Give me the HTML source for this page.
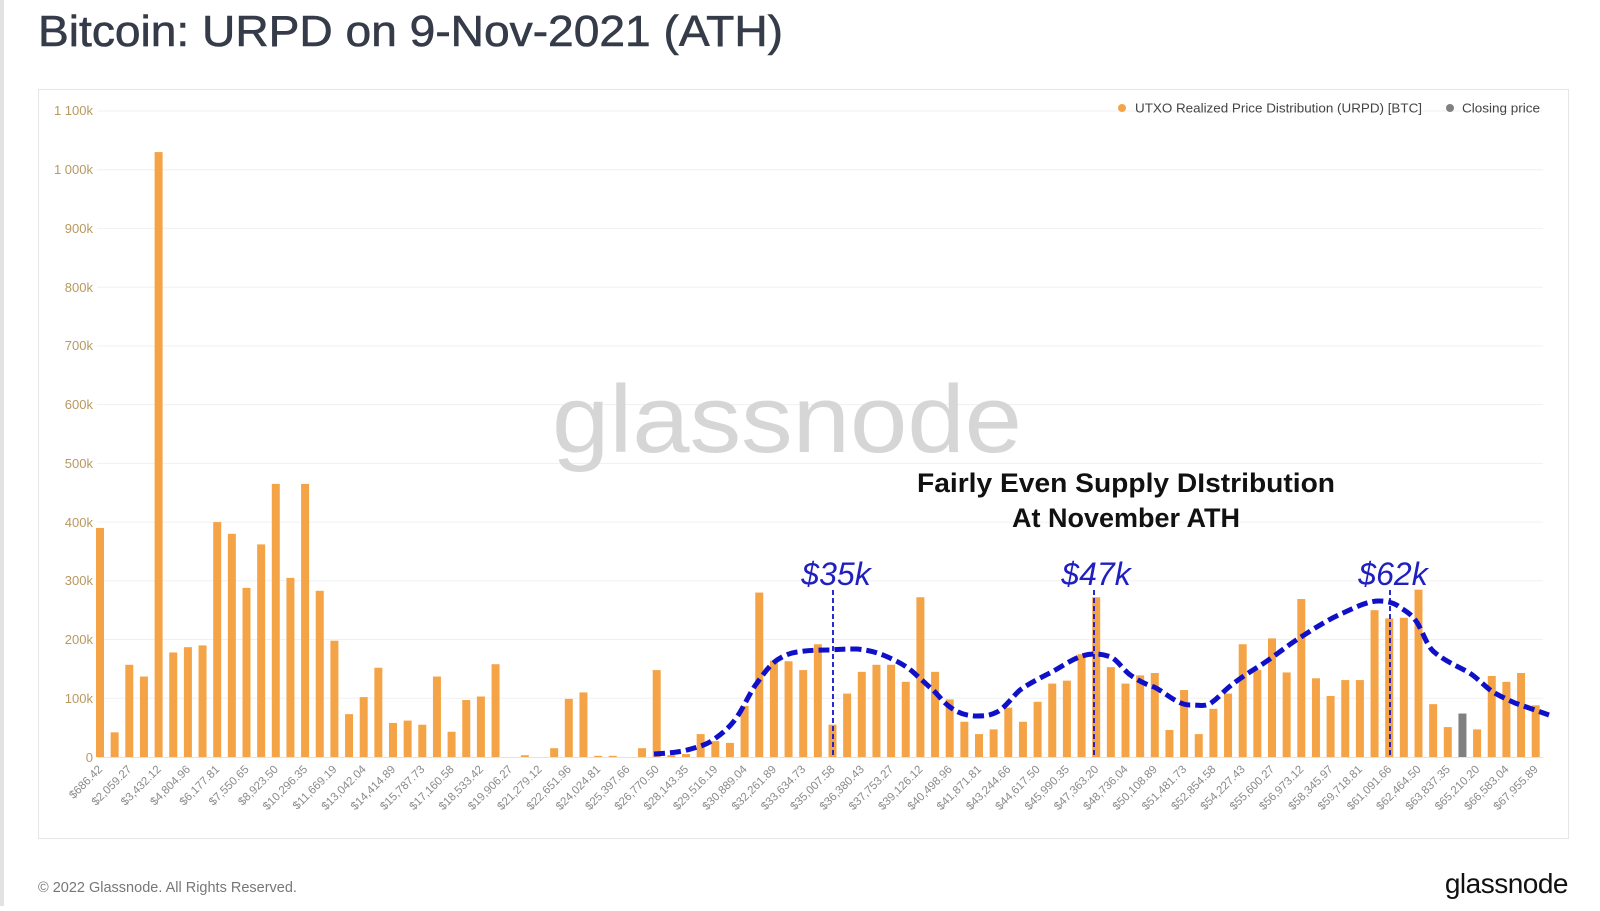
<!DOCTYPE html>
<html><head><meta charset="utf-8"><style>
html,body{margin:0;padding:0;background:#fff;}
body{width:1600px;height:906px;overflow:hidden;position:relative;font-family:"Liberation Sans",sans-serif;}
</style></head><body>
<svg width="1600" height="906" viewBox="0 0 1600 906" xmlns="http://www.w3.org/2000/svg" font-family="Liberation Sans, sans-serif">
<rect x="0" y="0" width="4" height="906" fill="#e2e2e2"/>
<text x="38" y="46" font-size="44" fill="#353b48" stroke="#353b48" stroke-width="0.6" textLength="745" lengthAdjust="spacingAndGlyphs">Bitcoin: URPD on 9-Nov-2021 (ATH)</text>
<rect x="38.5" y="89.5" width="1530" height="749" fill="#fff" stroke="#e6e6e6"/>
<g stroke="#f0f0f0" stroke-width="1">
<line x1="97" x2="1543" y1="698.3" y2="698.3"/><line x1="97" x2="1543" y1="639.5" y2="639.5"/><line x1="97" x2="1543" y1="580.8" y2="580.8"/><line x1="97" x2="1543" y1="522.1" y2="522.1"/><line x1="97" x2="1543" y1="463.4" y2="463.4"/><line x1="97" x2="1543" y1="404.6" y2="404.6"/><line x1="97" x2="1543" y1="345.9" y2="345.9"/><line x1="97" x2="1543" y1="287.2" y2="287.2"/><line x1="97" x2="1543" y1="228.4" y2="228.4"/><line x1="97" x2="1543" y1="169.7" y2="169.7"/><line x1="97" x2="1543" y1="111" y2="111"/>
</g>
<line x1="97" x2="1543" y1="757.5" y2="757.5" stroke="#dfe3ea"/>
<g font-size="13" fill="#b8995f" text-anchor="end">
<text x="93" y="762">0</text><text x="93" y="703">100k</text><text x="93" y="644">200k</text><text x="93" y="585">300k</text><text x="93" y="527">400k</text><text x="93" y="468">500k</text><text x="93" y="409">600k</text><text x="93" y="350">700k</text><text x="93" y="292">800k</text><text x="93" y="233">900k</text><text x="93" y="174">1 000k</text><text x="93" y="115">1 100k</text>
</g>
<text x="787" y="452" font-size="96" fill="#d6d6d6" text-anchor="middle" textLength="470" lengthAdjust="spacingAndGlyphs">glassnode</text>
<g id="bars"></g>
<g font-size="11.5" fill="#8a8a8a" text-anchor="end">
<text transform="translate(103,770) rotate(-45)">$686.42</text>
<text transform="translate(132.3,770) rotate(-45)">$2,059.27</text>
<text transform="translate(161.6,770) rotate(-45)">$3,432.12</text>
<text transform="translate(190.9,770) rotate(-45)">$4,804.96</text>
<text transform="translate(220.2,770) rotate(-45)">$6,177.81</text>
<text transform="translate(249.5,770) rotate(-45)">$7,550.65</text>
<text transform="translate(278.8,770) rotate(-45)">$8,923.50</text>
<text transform="translate(308.1,770) rotate(-45)">$10,296.35</text>
<text transform="translate(337.4,770) rotate(-45)">$11,669.19</text>
<text transform="translate(366.7,770) rotate(-45)">$13,042.04</text>
<text transform="translate(396,770) rotate(-45)">$14,414.89</text>
<text transform="translate(425.3,770) rotate(-45)">$15,787.73</text>
<text transform="translate(454.6,770) rotate(-45)">$17,160.58</text>
<text transform="translate(483.9,770) rotate(-45)">$18,533.42</text>
<text transform="translate(513.2,770) rotate(-45)">$19,906.27</text>
<text transform="translate(542.5,770) rotate(-45)">$21,279.12</text>
<text transform="translate(571.8,770) rotate(-45)">$22,651.96</text>
<text transform="translate(601.1,770) rotate(-45)">$24,024.81</text>
<text transform="translate(630.4,770) rotate(-45)">$25,397.66</text>
<text transform="translate(659.7,770) rotate(-45)">$26,770.50</text>
<text transform="translate(689,770) rotate(-45)">$28,143.35</text>
<text transform="translate(718.3,770) rotate(-45)">$29,516.19</text>
<text transform="translate(747.6,770) rotate(-45)">$30,889.04</text>
<text transform="translate(776.9,770) rotate(-45)">$32,261.89</text>
<text transform="translate(806.2,770) rotate(-45)">$33,634.73</text>
<text transform="translate(835.5,770) rotate(-45)">$35,007.58</text>
<text transform="translate(864.8,770) rotate(-45)">$36,380.43</text>
<text transform="translate(894.1,770) rotate(-45)">$37,753.27</text>
<text transform="translate(923.4,770) rotate(-45)">$39,126.12</text>
<text transform="translate(952.7,770) rotate(-45)">$40,498.96</text>
<text transform="translate(982,770) rotate(-45)">$41,871.81</text>
<text transform="translate(1011.3,770) rotate(-45)">$43,244.66</text>
<text transform="translate(1040.6,770) rotate(-45)">$44,617.50</text>
<text transform="translate(1069.9,770) rotate(-45)">$45,990.35</text>
<text transform="translate(1099.2,770) rotate(-45)">$47,363.20</text>
<text transform="translate(1128.5,770) rotate(-45)">$48,736.04</text>
<text transform="translate(1157.8,770) rotate(-45)">$50,108.89</text>
<text transform="translate(1187.1,770) rotate(-45)">$51,481.73</text>
<text transform="translate(1216.4,770) rotate(-45)">$52,854.58</text>
<text transform="translate(1245.7,770) rotate(-45)">$54,227.43</text>
<text transform="translate(1275,770) rotate(-45)">$55,600.27</text>
<text transform="translate(1304.3,770) rotate(-45)">$56,973.12</text>
<text transform="translate(1333.6,770) rotate(-45)">$58,345.97</text>
<text transform="translate(1362.9,770) rotate(-45)">$59,718.81</text>
<text transform="translate(1392.2,770) rotate(-45)">$61,091.66</text>
<text transform="translate(1421.5,770) rotate(-45)">$62,464.50</text>
<text transform="translate(1450.8,770) rotate(-45)">$63,837.35</text>
<text transform="translate(1480.1,770) rotate(-45)">$65,210.20</text>
<text transform="translate(1509.4,770) rotate(-45)">$66,583.04</text>
<text transform="translate(1538.7,770) rotate(-45)">$67,955.89</text>
</g>
<g stroke="#1414c8" stroke-width="1.8" stroke-dasharray="5,3">
<line x1="833" y1="590" x2="833" y2="757"/>
<line x1="1094" y1="590" x2="1094" y2="757"/>
<line x1="1390" y1="590" x2="1390" y2="757"/>
</g>
<path d="M654,754 C670,753 680,752 687,750 C698,747 706,745 713,740 C723,733 730,727 737,717 C745,705 750,692 757,683 C764,673 770,665 777,660 C785,655 790,653 797,652 C810,650 820,650 830,650 C840,649 848,649 857,649 C868,650 875,652 883,655 C895,660 905,665 913,672 C922,680 927,685 933,690 C940,697 944,703 950,707 C958,713 966,716 977,716 C987,716 991,715 997,712 C1006,707 1013,696 1020,690 C1030,683 1040,678 1050,673 C1065,665 1078,654 1094,654 C1104,654 1107,656 1111,657 C1118,661 1122,668 1129,674 C1137,680 1145,684 1154,687 C1165,692 1177,705 1190,705 C1200,705 1205,707 1211,703 C1218,698 1222,693 1229,687 C1240,678 1250,672 1261,665 C1275,656 1288,645 1301,637 C1315,628 1329,619 1343,613 C1356,607 1368,601 1379,601 C1390,601 1396,604 1401,608 C1409,613 1413,616 1418,624 C1424,635 1427,645 1433,651 C1443,660 1455,665 1468,672 C1478,678 1485,687 1493,692 C1500,696 1508,700 1515,703 C1526,707 1538,711 1549,715" fill="none" stroke="#1010c8" stroke-width="5" stroke-dasharray="11,5" stroke-linecap="butt"/>
<g font-size="32" font-style="italic" fill="#2020c0" text-anchor="middle">
<text x="836" y="585">$35k</text>
<text x="1096" y="585">$47k</text>
<text x="1393" y="585">$62k</text>
</g>
<g font-size="27" font-weight="bold" fill="#111" text-anchor="middle">
<text x="1126" y="492" textLength="418" lengthAdjust="spacingAndGlyphs">Fairly Even Supply DIstribution</text>
<text x="1126" y="527">At November ATH</text>
</g>
<circle cx="1122" cy="108" r="4" fill="#f4a447"/>
<text x="1135" y="112.5" font-size="13" fill="#444" textLength="287" lengthAdjust="spacingAndGlyphs">UTXO Realized Price Distribution (URPD) [BTC]</text>
<circle cx="1450" cy="108" r="4" fill="#808080"/>
<text x="1462" y="112.5" font-size="13" fill="#444" textLength="78" lengthAdjust="spacingAndGlyphs">Closing price</text>
<text x="38" y="892" font-size="14.5" fill="#777">© 2022 Glassnode. All Rights Reserved.</text>
<text x="1568" y="893" font-size="28" fill="#111" text-anchor="end" letter-spacing="-0.5">glassnode</text>
</svg>
<script>
var v=[390,42,157,137,1030,178,187,190,400,380,288,362,465,305,465,283,198,73,102,152,58,62,55,137,43,97,103,158,0,3,0,15,99,110,2,2,0,15,148,3,5,39,27,24,87,280,164,163,148,192,55,108,145,157,157,128,272,145,98,60,39,47,84,60,94,125,130,175,272,153,125,139,143,46,114,39,82,108,192,148,202,144,269,134,104,131,131,250,236,237,285,90,51,74,47,138,128,143,88];
var g=document.getElementById('bars'),s='';
for(var i=0;i<v.length;i++){var x=100+i*14.65,h=v[i]*0.5873;if(h<=0)continue;
s+='<rect x="'+(x-4).toFixed(2)+'" y="'+(757-h).toFixed(2)+'" width="8" height="'+h.toFixed(2)+'" fill="'+(i==93?'#808080':'#f4a447')+'"/>';}
g.innerHTML=s;
</script>
</body></html>
